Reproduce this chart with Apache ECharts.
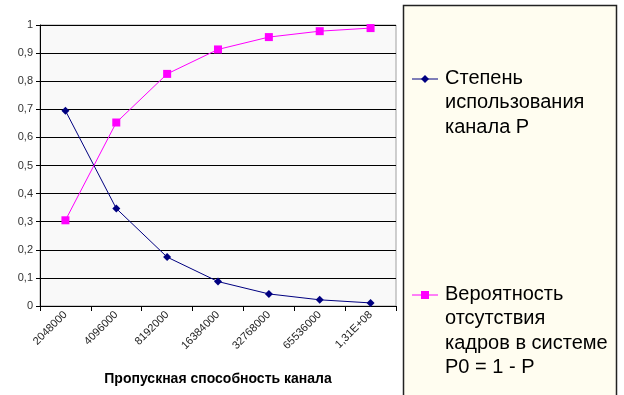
<!DOCTYPE html>
<html><head><meta charset="utf-8">
<script src="https://cdn.jsdelivr.net/npm/echarts@6/dist/echarts.min.js"></script>
<style>html,body{margin:0;padding:0;background:#fff}#c{width:624px;height:395px}</style>
</head><body><div id="c"></div>
<script>
const categories = ['2048000','4096000','8192000','16384000','32768000','65536000','1,31E+08'];
const utilization = [0.695, 0.347, 0.174, 0.087, 0.043, 0.022, 0.011];
const probEmpty = [0.305, 0.653, 0.826, 0.913, 0.957, 0.978, 0.989];
const yTicks = [0, 0.1, 0.2, 0.3, 0.4, 0.5, 0.6, 0.7, 0.8, 0.9, 1];
const seriesNames = ['Степень\nиспользования\nканала P', 'Вероятность\nотсутствия\nкадров в системе\nP0 = 1 - P'];
const xName = 'Пропускная способность канала';

const chart = echarts.init(document.getElementById('c'), null, {renderer:'canvas'});
const F = 'Liberation Sans, Arial, sans-serif';
chart.setOption({
  animation:false,
  backgroundColor:'#ffffff',
  grid:{left:40,right:228,top:25,bottom:89,show:true,backgroundColor:'#f9f9f9',borderColor:'#a0a0a0',borderWidth:1},
  xAxis:{type:'category',data:categories,boundaryGap:true,
    name:xName,nameLocation:'middle',nameGap:66,
    nameTextStyle:{fontFamily:F,fontSize:14,fontWeight:'bold',color:'#000'},
    axisLine:{lineStyle:{color:'#000',width:1}},
    axisTick:{show:true,length:5,interval:0,lineStyle:{color:'#000'}},
    axisLabel:{rotate:45,interval:0,fontFamily:F,fontSize:11,color:'#222',margin:7}
  },
  yAxis:{type:'value',min:0,max:1,interval:0.1,
    axisLine:{show:true,lineStyle:{color:'#000'}},
    axisTick:{show:true,length:4,lineStyle:{color:'#000'}},
    splitLine:{show:true,lineStyle:{color:'#000',width:1}},
    axisLabel:{fontFamily:F,fontSize:11,color:'#333',margin:7,
      formatter:v=>{const t=yTicks.find(x=>Math.abs(x-v)<1e-6);return (t===undefined?v:t).toString().replace('.',',');}}
  },
  series:[
    {name:seriesNames[0],type:'line',data:utilization,symbol:'diamond',symbolSize:8,
     itemStyle:{color:'#000080'},lineStyle:{color:'#000080',width:1}},
    {name:seriesNames[1],type:'line',data:probEmpty,symbol:'rect',symbolSize:8,
     itemStyle:{color:'#ff00ff'},lineStyle:{color:'#ff00ff',width:1}}
  ],
  graphic:[
    {type:'rect',shape:{x:403.5,y:5.5,width:213,height:400},style:{fill:'#fffdf0',stroke:'#222',lineWidth:1.5}},
    {type:'line',shape:{x1:412,y1:79,x2:438,y2:79},style:{stroke:'#000080',lineWidth:1}},
    {type:'polygon',shape:{points:[[425,75],[429,79],[425,83],[421,79]]},style:{fill:'#000080'}},
    {type:'text',x:445,y:66,style:{text:seriesNames[0],font:'20px '+F,lineHeight:24.5,fill:'#000'}},
    {type:'line',shape:{x1:412,y1:295,x2:438,y2:295},style:{stroke:'#ff00ff',lineWidth:1}},
    {type:'rect',shape:{x:421,y:291,width:8,height:8},style:{fill:'#ff00ff'}},
    {type:'text',x:445,y:282,style:{text:seriesNames[1],font:'20px '+F,lineHeight:24.5,fill:'#000'}}
  ]
});
</script></body></html>
